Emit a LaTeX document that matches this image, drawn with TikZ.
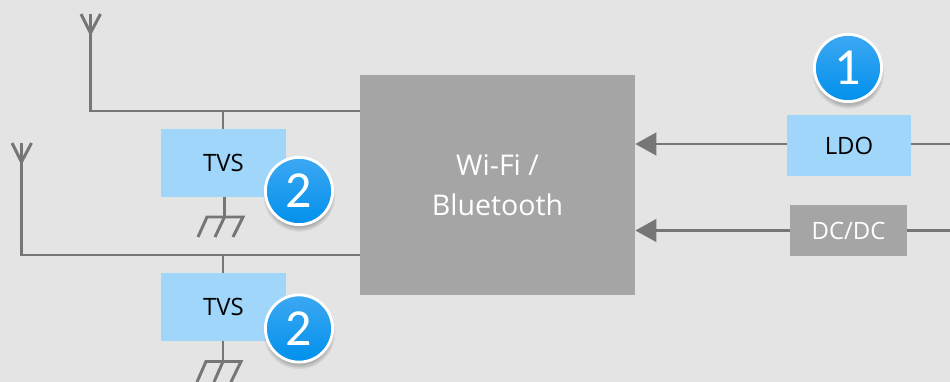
\documentclass[tikz,border=0pt]{standalone}
\usepackage{fontspec}
\setmainfont{Open Sans}
\newfontfamily\digitfont{Carlito}
\usetikzlibrary{positioning,arrows.meta,shadows}
\definecolor{bgcol}{HTML}{E4E4E4}
\definecolor{wirecol}{HTML}{767676}
\definecolor{greycol}{HTML}{A5A5A5}
\definecolor{tvscol}{HTML}{9FD6FA}
\definecolor{badgetop}{HTML}{3DA8F2}
\definecolor{badgebot}{HTML}{0090EC}

\begin{document}
\begin{tikzpicture}
[x=0.025cm, y=-0.025cm,
wire/.style={draw=wirecol, line width=2.1pt},
arrowwire/.style={wire, -{Triangle[length=0.525cm, width=0.56cm]}},
bluebox/.style={fill=tvscol, inner sep=0pt, text=black, font=\fontsize{17}{20}\selectfont},
greybox/.style={fill=greycol, inner sep=0pt, text=white},
tvsbox/.style={bluebox, minimum width=3.125cm, minimum height=1.7cm},
badge/.style={circle, draw=white, line width=2pt, minimum size=1.68cm, inner sep=0pt, top color=badgetop, bottom color=badgebot, text=white, font=\digitfont\fontsize{37}{40}\selectfont, circular drop shadow={shadow xshift=0pt, shadow yshift=-3pt, shadow scale=1.08, opacity=0.55}}]

\fill[bgcol] (0,0) rectangle (950,382);
\useasboundingbox (0,0) rectangle (950,382);

\node (wifi) at (497.5,185) [greybox, minimum width=6.875cm, minimum height=5.5cm, align=center, font=\fontsize{20.3}{28}\selectfont] {Wi-Fi /\\Bluetooth};
\node (ldo) at (849,145.5) [bluebox, minimum width=3.1cm, minimum height=1.525cm] {LDO};
\node (dc) at (848.5,230.5) [greybox, minimum width=2.925cm, minimum height=1.275cm, font=\fontsize{17}{20}\selectfont] {DC/DC};
\node (tvs1) at (223.5,163) [tvsbox] {TVS};
\node (tvs2) at (223.5,307) [tvsbox] {TVS};

% antennas and feed lines
\coordinate (a1) at (90.5,111);
\coordinate (a2) at (21.5,255);
\coordinate (w1) at (wifi.west |- 0,111);
\coordinate (w2) at (wifi.west |- 0,255);
\draw[wire] (w1) -- (a1) -- (90.5,14);
\draw[wire] (81,14) -- (90.5,33) -- (100.5,14);
\draw[wire] (w2) -- (a2) -- (21.5,143);
\draw[wire] (12,143) -- (21.5,162) -- (31.5,143);

% tvs stubs
\draw[wire] (tvs1.north -| 223,0) -- (223,111);
\draw[wire] (tvs2.north -| 223,0) -- (223,255);

% grounds
\coordinate (g1) at (224.5,217);
\coordinate (g2) at (223,361.5);
\draw[wire] (tvs1.south -| g1) -- (g1);
\draw[wire] (198,237) -- (207,217) -- (243,217) -- (233,237);
\draw[wire] (215,237) -- (g1);
\draw[wire] (tvs2.south -| g2) -- (g2);
\draw[wire] (197,382) -- (206,361.5) -- (241,361.5) -- (231,382);
\draw[wire] (214,382) -- (g2);

% supply lines
\coordinate (r1) at (950,144);
\coordinate (r2) at (950,230.5);
\draw[arrowwire] (ldo.west |- r1) -- (wifi.east |- r1);
\draw[arrowwire] (dc.west |- r2) -- (wifi.east |- r2);
\draw[wire] (ldo.east |- r1) -- (r1);
\draw[wire] (dc.east |- r2) -- (r2);

\node (b1) at (848,68) [badge] {1};
\node (b2) at (299,191) [badge] {2};
\node (b3) at (299,328.5) [badge] {2};

\end{tikzpicture}
\end{document}
